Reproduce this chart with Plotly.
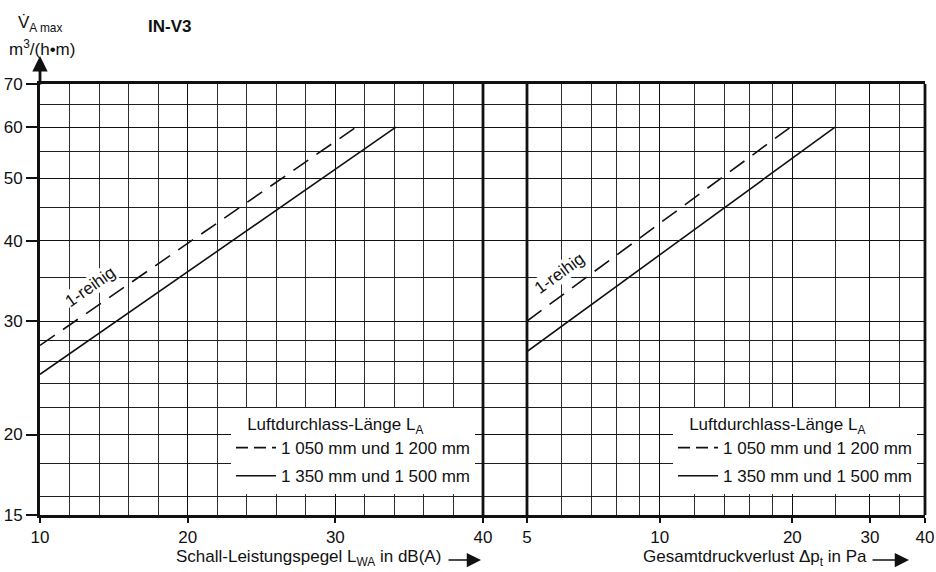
import math
import plotly.graph_objects as go

# ---------------- data ----------------
# left panel: sound power level L_WA in dB(A) vs. V_A max
lwa_dashed = [10, 31.4]
vmax_dashed_left = [27.5, 60]
lwa_solid = [10, 34.1]
vmax_solid_left = [24.8, 60]

# right panel: total pressure loss dp_t in Pa vs. V_A max
dp_dashed = [5, 19.8]
vmax_dashed_right = [30, 60]
dp_solid = [5, 25]
vmax_solid_right = [26.9, 60]

series_names = ["1 050 mm und 1 200 mm", "1 350 mm und 1 500 mm"]
legend_title = "\u00a0\u00a0\u00a0Luftdurchlass-Länge L<sub>A</sub>"

y_major = [15, 20, 30, 40, 50, 60, 70]
y_minor = [16, 18, 22, 24, 26, 28, 35, 45, 55, 65]
x1_major = [10, 20, 30, 40]
x2_major = [5, 10, 20, 30, 40]
x2_minor = [6, 7, 8, 9, 12, 14, 16, 18, 25, 35]

# ---------------- style ----------------
FONT = "Liberation Sans, Arial, Helvetica, sans-serif"
FS = 17
INK = "#111111"
W, H = 936, 572
ML, MR, MT, MB = 40, 11, 84, 57
PW = W - ML - MR
PH = H - MT - MB


def px_x(p):
    return (p - ML) / PW


def px_y(p):
    return (H - MB - p) / PH


d1_end = px_x(483)
d2_start = px_x(527)

fig = go.Figure()

line_w = 1.6
dash_main = "18px,10px"
dash_leg = "12px,6px"

# data lines (left)
fig.add_trace(go.Scatter(x=lwa_dashed, y=vmax_dashed_left, mode="lines",
                         line=dict(color=INK, width=line_w, dash=dash_main),
                         xaxis="x", yaxis="y", showlegend=False, hoverinfo="skip"))
fig.add_trace(go.Scatter(x=lwa_solid, y=vmax_solid_left, mode="lines",
                         line=dict(color=INK, width=line_w),
                         xaxis="x", yaxis="y", showlegend=False, hoverinfo="skip"))
# data lines (right)
fig.add_trace(go.Scatter(x=dp_dashed, y=vmax_dashed_right, mode="lines",
                         line=dict(color=INK, width=line_w, dash=dash_main),
                         xaxis="x2", yaxis="y", showlegend=False, hoverinfo="skip"))
fig.add_trace(go.Scatter(x=dp_solid, y=vmax_solid_right, mode="lines",
                         line=dict(color=INK, width=line_w),
                         xaxis="x2", yaxis="y", showlegend=False, hoverinfo="skip"))

# legend entries
for lg, xa in (("legend", "x"), ("legend2", "x2")):
    fig.add_trace(go.Scatter(x=[None], y=[None], mode="lines", name=series_names[0],
                             line=dict(color=INK, width=line_w, dash=dash_leg),
                             xaxis=xa, yaxis="y", legend=lg, showlegend=True,
                             legendgroup=lg + "a"))
    fig.add_trace(go.Scatter(x=[None], y=[None], mode="lines", name=series_names[1],
                             line=dict(color=INK, width=line_w),
                             xaxis=xa, yaxis="y", legend=lg, showlegend=True,
                             legendgroup=lg + "b"))

# gap subplot so horizontal grid continues between panels
fig.add_trace(go.Scatter(x=[0.5], y=[20], mode="markers", marker=dict(opacity=0),
                         xaxis="x3", yaxis="y", showlegend=False, hoverinfo="skip"))

grid_major = dict(gridcolor="#111111", gridwidth=1.2)
minor_grid = "#2e2e2e"
BW = 2.8

legend_common = dict(xanchor="left", yanchor="top", bgcolor="white", borderwidth=0,
                     font=dict(size=FS), title=dict(text=legend_title, font=dict(size=FS)),
                     itemclick=False, itemdoubleclick=False, tracegroupgap=3,
                     itemwidth=40)

fig.update_layout(
    width=W, height=H,
    margin=dict(l=ML, r=MR, t=MT, b=MB, autoexpand=False),
    paper_bgcolor="white", plot_bgcolor="white",
    font=dict(family=FONT, size=FS, color=INK),
    xaxis=dict(domain=[0, d1_end], range=[10, 40], anchor="y", automargin=False,
               tickmode="array", tickvals=x1_major, ticks="outside", ticklen=5,
               tickwidth=1.5, tickcolor=INK, showgrid=True, **grid_major,
               minor=dict(dtick=2, tick0=10, showgrid=True, gridcolor=minor_grid,
                          gridwidth=1, ticks=""),
               showline=True, linecolor=INK, linewidth=BW, mirror=True,
               zeroline=False, tickfont=dict(size=FS)),
    xaxis2=dict(domain=[d2_start, 1], type="log", automargin=False,
                range=[math.log10(5), math.log10(40)], anchor="y",
                tickmode="array", tickvals=x2_major, ticktext=[str(v) for v in x2_major],
                ticks="outside", ticklen=5, tickwidth=1.5, tickcolor=INK,
                showgrid=True, **grid_major,
                minor=dict(tickmode="array", tickvals=x2_minor, showgrid=True,
                           gridcolor=minor_grid, gridwidth=1, ticks=""),
                showline=True, linecolor=INK, linewidth=BW, mirror=True,
                zeroline=False, tickfont=dict(size=FS)),
    xaxis3=dict(domain=[d1_end, d2_start], range=[0, 1], anchor="y", automargin=False,
                showticklabels=False, ticks="", showgrid=False, zeroline=False,
                showline=True, linecolor=INK, linewidth=BW, mirror=True),
    yaxis=dict(type="log", range=[math.log10(15), math.log10(70)], anchor="x",
               automargin=False,
               tickmode="array", tickvals=y_major, ticktext=[str(v) for v in y_major],
               ticks="outside", ticklen=11, tickwidth=1.5, tickcolor=INK,
               showgrid=True, **grid_major,
               minor=dict(tickmode="array", tickvals=y_minor, showgrid=True,
                          gridcolor="#1e1e1e", gridwidth=1, ticks=""),
               showline=True, linecolor=INK, linewidth=BW, mirror=False,
               zeroline=False, tickfont=dict(size=FS)),
    legend=dict(x=px_x(231), y=px_y(408), **legend_common),
    legend2=dict(x=px_x(673), y=px_y(408), **legend_common),
    hovermode=False,
)

# vertical panel borders (between panels and right edge)
shapes = []
for xp in (d1_end, d2_start, 1.0):
    shapes.append(dict(type="line", xref="paper", yref="paper", x0=xp, x1=xp, y0=0, y1=1,
                       line=dict(color=INK, width=BW), layer="above"))
fig.update_layout(shapes=shapes)

ann = []
# title
ann.append(dict(text="<b>IN-V3</b>", xref="paper", yref="paper", x=px_x(146), y=px_y(27),
                xanchor="left", yanchor="middle", showarrow=False, font=dict(size=FS)))
# y axis label
ann.append(dict(text="V\u0307<sub>A max</sub>", xref="paper", yref="paper", x=px_x(16), y=px_y(24),
                xanchor="left", yanchor="middle", showarrow=False, font=dict(size=FS)))
ann.append(dict(text="m<sup>3</sup>/(h\u2022m)", xref="paper", yref="paper", x=px_x(7), y=px_y(48),
                xanchor="left", yanchor="middle", showarrow=False, font=dict(size=FS)))
# y axis arrow
ann.append(dict(text="", xref="paper", yref="paper", x=0, y=px_y(56), ax=0, ay=30,
                showarrow=True, arrowhead=2, arrowsize=1.1, arrowwidth=BW, arrowcolor=INK))
# x axis titles
ann.append(dict(text="Schall-Leistungspegel L<sub>WA</sub> in dB(A)", xref="paper", yref="paper",
                x=px_x(443), y=px_y(558), xanchor="right", yanchor="middle", showarrow=False,
                font=dict(size=FS)))
ann.append(dict(text="", xref="paper", yref="paper", x=px_x(481), y=px_y(560), ax=-34, ay=0,
                showarrow=True, arrowhead=2, arrowsize=1.9, arrowwidth=1.5, arrowcolor=INK))
ann.append(dict(text="Gesamtdruckverlust \u0394p<sub>t</sub> in Pa", xref="paper", yref="paper",
                x=px_x(869), y=px_y(558), xanchor="right", yanchor="middle", showarrow=False,
                font=dict(size=FS)))
ann.append(dict(text="", xref="paper", yref="paper", x=px_x(909), y=px_y(560), ax=-38, ay=0,
                showarrow=True, arrowhead=2, arrowsize=1.9, arrowwidth=1.5, arrowcolor=INK))
# 1-reihig labels
ann.append(dict(text="1-reihig", xref="x", yref="y", x=13.45, y=math.log10(33.9),
                textangle=-35, showarrow=False, bgcolor="white", borderpad=0,
                font=dict(size=FS)))
ann.append(dict(text="1-reihig", xref="x2", yref="y", x=math.log10(5.92), y=math.log10(35.6),
                textangle=-36, showarrow=False, bgcolor="white", borderpad=0,
                font=dict(size=FS)))
fig.update_layout(annotations=ann)

fig.write_html("out.html", post_script="document.body.style.margin='0px';",
               config={"displayModeBar": False})
